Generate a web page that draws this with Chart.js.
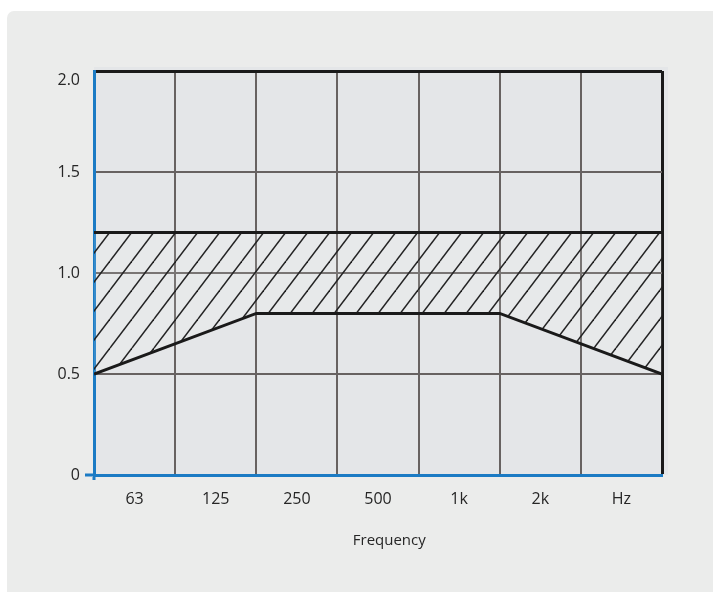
<!DOCTYPE html>
<html>
<head>
<meta charset="utf-8">
<script src="https://cdn.jsdelivr.net/npm/chart.js@4/dist/chart.umd.min.js"></script>
<style>
  html, body { margin: 0; padding: 0; background: #ffffff; overflow: hidden; }
  #card { position: absolute; left: 7px; top: 11px; right: -10px; bottom: -10px; background: #ebeceb; border-radius: 7px; }
  #wrap { position: absolute; left: 0; top: 0; width: 713px; height: 592px; }
</style>
</head>
<body>
<div id="card"></div>
<div id="wrap"><canvas id="chart"></canvas></div>
<script>
// frequency bands (columns) and y tick labels
const categories = ["63", "125", "250", "500", "1k", "2k", "Hz"];
const yTickValues = [0, 0.5, 1.0, 1.5, 2.0];
const yTickLabels = ["0", "0.5", "1.0", "1.5", "2.0"];

// tolerance band, x in column units (0 = left edge, 7 = right edge)
const upperX = [0, 7];
const upperY = [1.2, 1.2];
const lowerX = [0, 2, 5, 7];
const lowerY = [0.5, 0.8, 0.8, 0.5];

const BLUE = "#1b7bc4";
const GRID = "#676261";
const INK = "#1a1a1a";

function toPoints(xs, ys) {
  return xs.map((x, i) => ({ x: x, y: ys[i] }));
}

function hatch() {
  const c = document.createElement("canvas");
  c.width = 22; c.height = 29;
  const g = c.getContext("2d");
  g.fillStyle = "rgba(255,255,255,0.12)";
  g.fillRect(0, 0, 22, 29);
  g.strokeStyle = "#232323";
  g.lineWidth = 1.5;
  for (const dx of [-22, 0, 22]) {
    g.beginPath();
    g.moveTo(22 + dx, 0);
    g.lineTo(dx, 29);
    g.stroke();
  }
  return g.createPattern(c, "repeat");
}

const plotBg = {
  id: "plotBg",
  beforeDraw(chart) {
    const a = chart.chartArea, ctx = chart.ctx;
    ctx.save();
    ctx.fillStyle = "#e4e6e8";
    ctx.fillRect(a.left, a.top - 4, a.right - a.left + 6, a.bottom - a.top + 4);
    ctx.restore();
  }
};

const font = { family: "'Open Sans', 'Noto Sans', sans-serif", size: 16 };

new Chart(document.getElementById("chart"), {
  type: "line",
  data: {
    labels: categories,
    datasets: [{
      label: "upper",
      data: toPoints(upperX, upperY),
      xAxisID: "xl",
      borderColor: INK,
      borderWidth: 3,
      backgroundColor: hatch(),
      fill: "+1",
      pointRadius: 0,
      tension: 0
    }, {
      label: "lower",
      data: toPoints(lowerX, lowerY),
      xAxisID: "xl",
      borderColor: INK,
      borderWidth: 3,
      fill: false,
      pointRadius: 0,
      tension: 0
    }]
  },
  options: {
    animation: false,
    responsive: true,
    maintainAspectRatio: false,
    layout: { padding: { left: 0, top: 71, right: 51, bottom: 0 } },
    plugins: {
      legend: { display: false },
      tooltip: { enabled: false },
      filler: { drawTime: "beforeDatasetsDraw" }
    },
    scales: {
      xl: { type: "linear", display: false, min: 0, max: 7 },
      x: {
        type: "category",
        labels: categories,
        offset: true,
        afterFit: (s) => { s.height = 117; },
        grid: {
          offset: true,
          color: (c) => c.tick === undefined ? INK : (c.index === 0 ? "rgba(0,0,0,0)" : GRID),
          lineWidth: (c) => c.tick === undefined ? 3 : 2,
          tickColor: (c) => c.index === 0 && c.tick !== undefined ? BLUE : "rgba(0,0,0,0)",
          tickWidth: 3,
          tickLength: 5
        },
        border: { color: BLUE, width: 3 },
        ticks: { color: "#262626", font: font, padding: 10, maxRotation: 0 },
        title: {
          display: true,
          text: "\u2002\u2002\u2002Frequency",
          color: "#262626",
          font: { family: font.family, size: 15 },
          padding: { top: 4, bottom: 42 }
        }
      },
      y: {
        min: 0,
        max: 2,
        afterFit: (s) => { s.width = 94; },
        afterBuildTicks: (s) => { s.ticks = yTickValues.map(v => ({ value: v })); },
        grid: {
          color: (c) => c.tick && c.tick.value === 2 ? INK : (c.tick && c.tick.value === 0 ? "rgba(0,0,0,0)" : GRID),
          lineWidth: (c) => c.tick && c.tick.value === 2 ? 3 : 2,
          tickColor: (c) => c.tick && c.tick.value === 0 ? BLUE : "rgba(0,0,0,0)",
          tickWidth: 3,
          tickLength: 9
        },
        border: { color: BLUE, width: 3 },
        ticks: {
          color: "#262626",
          font: font,
          padding: 5,
          callback: (v) => {
            const label = yTickLabels[yTickValues.indexOf(v)];
            return v === 2 ? ["", label] : label;
          }
        }
      }
    }
  },
  plugins: [plotBg]
});
</script>
</body>
</html>
